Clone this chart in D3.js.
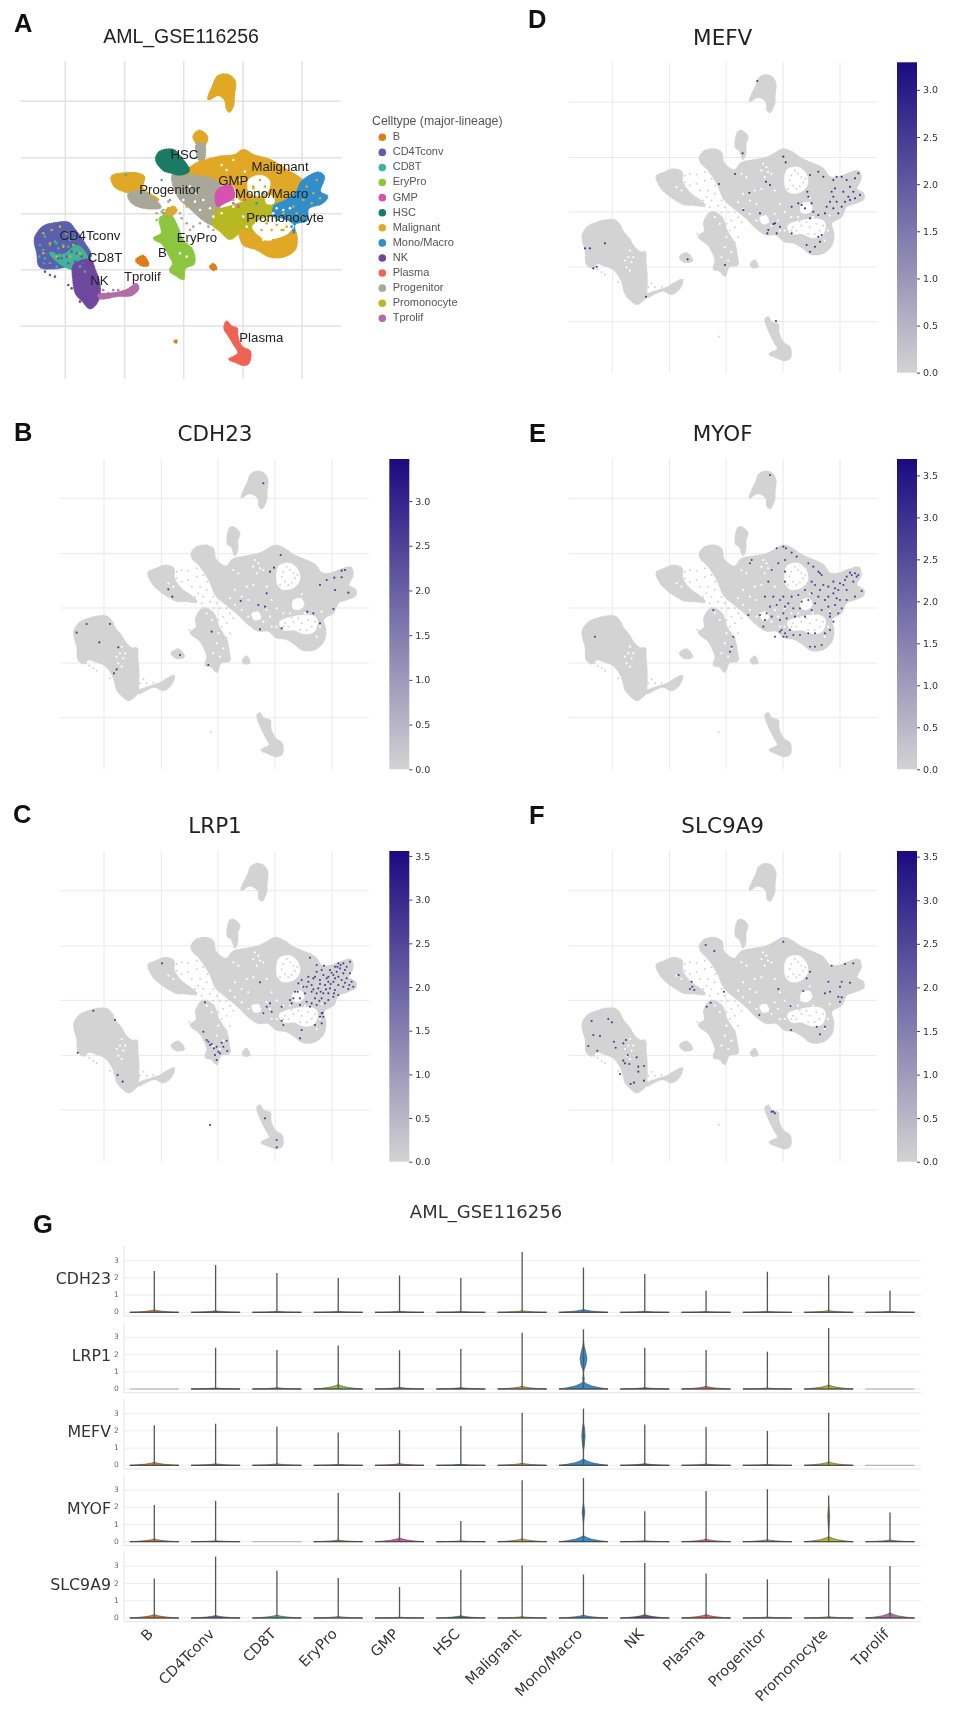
<!DOCTYPE html>
<html><head><meta charset="utf-8">
<script src="https://cdn.jsdelivr.net/npm/d3@7"></script>
<style>html,body{margin:0;background:#fff}svg{display:block;filter:blur(.6px)}</style></head>
<body><svg id="c" width="957" height="1709"></svg>
<script>
// ---------- categories ----------
const cellTypes=["B","CD4Tconv","CD8T","EryPro","GMP","HSC","Malignant","Mono/Macro","NK","Plasma","Progenitor","Promonocyte","Tprolif"];
const typeColors=["#e07b1a","#5a5fae","#3fb598","#8cc63f","#d452b0","#1b7a64","#e0a825","#2f8ecb","#6f479f","#ef6354","#a8a89a","#b8b823","#b36ca6"];
const genes=["CDH23","LRP1","MEFV","MYOF","SLC9A9"];
// ---------- grey silhouette, embedding units ----------
const xGridBase=[312,484,654,825,996], yGridBase=[295,461,624,789,953];
const silhouette=[
 [[223,693],[240,668],[262,658],[290,650],[320,650],[335,665],[345,685],[362,705],[375,727],[395,745],[410,745],[412,775],[415,810],[415,850],[411,880],[396,895],[385,900],[370,890],[352,870],[345,845],[338,825],[330,812],[315,795],[290,785],[265,778],[250,790],[235,778],[232,740],[225,715]],
 [[725,292],[735,265],[745,245],[752,225],[770,215],[790,220],[802,240],[800,270],[798,300],[785,325],[778,318],[775,295],[760,282],[745,280]],
 [[683,430],[690,385],[700,382],[718,400],[712,420],[712,445],[705,465],[695,440]],
 [[445,518],[465,508],[495,497],[520,505],[522,535],[542,565],[575,590],[590,605],[555,603],[530,602],[510,592],[480,572],[458,550]],
 [[575,460],[590,442],[620,437],[640,448],[645,475],[665,495],[680,500],[700,478],[735,470],[775,462],[800,450],[825,437],[850,445],[880,465],[915,480],[945,495],[965,520],[995,520],[1020,510],[1052,503],[1058,525],[1045,555],[1066,570],[1066,585],[1040,598],[1015,607],[1000,637],[970,657],[976,690],[971,722],[945,747],[910,750],[885,732],[860,717],[830,712],[805,692],[775,692],[745,672],[712,640],[678,612],[648,585],[628,540],[598,495],[578,475]],
 [[588,655],[610,625],[640,640],[655,680],[680,722],[686,755],[688,782],[662,788],[650,815],[635,800],[617,795],[622,770],[612,742],[600,722],[572,698],[590,682]],
 [[515,760],[535,748],[552,770],[530,774]],
 [[728,782],[740,770],[748,788],[733,790]],
 [[412,875],[450,860],[480,850],[495,840],[522,828],[512,855],[490,870],[465,860],[440,868],[415,880]],
 [[772,945],[780,940],[790,955],[810,962],[811,985],[825,1015],[845,1030],[846,1060],[830,1068],[805,1060],[785,1050],[810,1035],[800,1015],[785,985]]
];
const silhouetteGaps=[
 [[838,500],[870,492],[893,512],[897,540],[878,562],[848,566],[833,548]],
 [[840,668],[865,655],[935,648],[950,660],[942,692],[915,700],[882,688],[852,688]],
 [[882,602],[903,598],[910,615],[895,627],[880,623]],
 [[757,642],[774,638],[780,654],[765,658]]
];
const sparseGrey=[[530,515],[545,510],[565,512],[590,505],[530,535],[545,545],[565,540],[590,530],[610,525],[575,560],[600,560],[620,570],[610,590],[640,590],[595,580],[630,605],[650,610],[660,625],[680,625],[640,625],[670,650],[655,660],[690,640],[700,655],[680,670],[665,680],[690,700],[680,715],[632,997],[420,850],[440,850],[430,838],[460,848],[395,850],[400,835],[258,790],[268,797],[280,805],[290,812],[330,835],[345,812],[850,515],[870,510],[885,535],[855,545],[845,530],[865,555],[880,520],[860,500],[875,548],[892,525],[840,555],[855,670],[880,665],[905,670],[925,660],[935,680],[900,690],[865,680],[920,690],[895,655],[945,665],[875,652],[850,680],[568,690],[580,700],[510,520],[640,560],[585,590],[622,545],[605,610],[625,640]];
const sparseWhite=[[775,490],[760,500],[705,570],[725,590],[715,520],[770,520],[745,600],[790,510],[800,560],[740,560],[700,510],[770,640],[620,640],[635,660],[655,700],[670,745],[360,760],[370,775],[355,790],[365,740],[350,770],[640,760],[810,650],[850,640],[815,680],[960,680],[950,710],[765,480],[780,505],[760,555],[800,630],[815,600],[830,625],[905,582],[915,640],[870,640],[690,595],[705,615],[725,630],[745,650],[790,665],[830,680],[965,635],[650,730],[660,770],[375,760],[365,800],[520,560],[505,550]];
// ---------- panel A, embedding units ----------
const xGridA=[196,374,551,729,906], yGridA=[304,473,641,809,978];
const clusterShapes=[
 ["Malignant",[[625,298],[640,255],[655,228],[685,225],[705,245],[702,285],[700,315],[688,335],[680,325],[675,300],[655,285]]],
 ["Malignant",[[580,410],[598,392],[622,412],[610,440],[598,440],[590,430]]],
 ["Progenitor",[[590,432],[612,432],[610,480],[598,480]]],
 ["Malignant",[[335,530],[370,520],[410,520],[432,530],[428,565],[475,600],[430,600],[395,582],[345,560]]],
 ["Progenitor",[[385,585],[420,572],[482,622],[425,622],[395,607]]],
 ["Malignant",[[556,520],[590,490],[620,480],[660,470],[705,465],[730,450],[760,465],[810,480],[860,510],[908,545],[890,580],[835,605],[720,598],[700,555],[650,555],[590,552]]],
 ["Progenitor",[[518,525],[560,525],[650,545],[668,590],[655,640],[672,665],[640,675],[608,658],[568,622],[535,590]]],
 ["HSC",[[468,478],[480,455],[520,450],[540,470],[567,512],[540,524],[510,517],[490,510]]],
 ["Promonocyte",[[648,635],[690,620],[760,600],[828,605],[828,640],[765,680],[762,698],[720,698],[690,717],[660,692],[640,675]]],
 ["GMP",[[650,575],[690,555],[702,590],[670,610],[652,617]]],
 ["Malignant",[[720,692],[760,700],[800,725],[830,718],[868,702],[878,680],[890,710],[885,748],[850,770],[810,770],[770,748],[730,733]]],
 ["Mono/Macro",[[905,545],[955,518],[972,530],[960,575],[982,590],[965,610],[925,625],[920,660],[885,672],[882,700],[870,672],[825,655],[822,620],[860,600],[890,575]]],
 ["EryPro",[[480,655],[510,645],[532,680],[548,720],[577,750],[582,790],[555,805],[550,837],[530,827],[510,812],[520,790],[510,770],[488,732],[462,715],[485,700]]],
 ["Malignant",[[495,640],[520,620],[530,630],[515,645]]],
 ["B",[[408,781],[430,768],[445,795],[425,796]]],
 ["B",[[630,800],[640,792],[650,805],[640,810]]],
 ["CD4Tconv",[[105,715],[130,680],[165,670],[205,668],[225,690],[250,725],[272,770],[225,792],[160,805],[120,800],[112,760]]],
 ["CD8T",[[150,758],[190,765],[232,738],[262,772],[258,798],[220,808],[180,790]]],
 ["NK",[[222,795],[270,780],[285,810],[298,850],[298,890],[285,915],[270,925],[250,905],[228,880],[220,840]]],
 ["Tprolif",[[295,885],[340,880],[380,870],[410,852],[415,865],[395,885],[350,888],[300,895]]],
 ["Plasma",[[673,985],[680,965],[695,980],[710,985],[712,1005],[725,1040],[750,1055],[745,1090],[730,1095],[705,1085],[688,1078],[715,1060],[700,1030],[685,1005]]],
 ["B",[[524,1022],[530,1022],[530,1027],[524,1027]]]
];
const clusterGaps=[[[748,540],[785,528],[808,545],[798,578],[770,586],[748,573]],[[760,678],[800,655],[860,664],[880,680],[858,698],[825,712],[790,698],[765,692]],[[797,592],[818,590],[820,608],[802,610]]];
const clusterSpeckle={
 "CD8T":[[120,735],[130,750],[118,770],[135,775],[150,735],[165,725],[140,760],[175,745],[205,740],[225,715],[130,790],[150,790],[170,800],[135,710],[170,730],[210,720],[160,770],[185,715],[190,735],[485,540],[378,525],[510,600],[490,640],[240,800],[255,815]],
 "CD4Tconv":[[140,760],[175,775],[205,790],[230,760],[250,790],[150,795],[195,750],[125,790],[135,815],[150,825],[165,830],[200,770],[225,785],[170,760],[185,775],[245,770],[215,755]],
 "Malignant":[[920,560],[940,580],[935,610],[910,600],[880,620],[850,640],[870,650],[890,640],[905,650],[950,540],[960,595],[130,700],[155,690],[180,680],[200,700],[150,730],[190,740],[170,770],[130,760],[240,760],[210,770],[220,735],[650,500],[640,630],[775,625],[800,615],[745,650],[785,690],[815,690],[845,690],[760,670],[780,540],[760,560],[795,560],[775,575],[800,670],[830,675],[860,680],[830,655],[385,560],[620,640],[560,620],[505,625]],
 "Progenitor":[[470,640],[485,635],[515,660],[540,640],[560,670],[570,690],[600,670],[505,605],[500,630],[520,640],[545,655],[580,680],[625,680],[640,690]],
 "Promonocyte":[[760,565],[740,610],[800,660],[850,690],[820,720],[780,655],[700,600],[790,600]],
 "NK":[[205,855],[215,865],[225,850],[240,905],[260,800]],
 "Tprolif":[[310,870],[325,880],[340,870],[355,870],[330,892],[305,885]],
 "GMP":[[700,610],[715,620],[690,530],[735,600],[690,570],[650,600]],
 "Mono/Macro":[[790,580],[770,610],[880,690],[875,680],[835,660]],
 "EryPro":[[470,660],[490,630],[560,800]]
};
const clusterWhite=[[570,560],[590,580],[610,600],[630,625],[600,630],[585,605],[640,650],[665,640],[700,480],[680,510],[665,495],[720,540],[735,515],[700,620],[730,650],[740,680],[820,640],[830,625],[850,630],[870,625],[550,600],[560,640],[500,770],[540,760],[560,770],[790,720],[775,700]];
const clusterLabels=[["CD4Tconv",270,710],["CD8T",315,775],["NK",298,845],["Tprolif",427,833],["B",487,760],["EryPro",591,716],["Progenitor",509,573],["HSC",553,468],["GMP",700,545],["Malignant",840,502],["Mono/Macro",815,583],["Promonocyte",855,656],["Plasma",784,1015]];
// ---------- expressing cells read per panel ----------
const cdh23Cells=[[790,250],[842,465],[822,503],[810,515],[505,568],[517,590],[722,603],[795,620],[775,615],[800,580],[1035,510],[1025,512],[1003,533],[980,540],[960,555],[1005,570],[1025,532],[1045,578],[1000,627],[922,635],[940,640],[780,688],[845,685],[960,670],[230,698],[260,672],[330,672],[298,727],[355,742],[350,808],[342,820],[635,695],[625,795],[540,765]];
const lrp1Cells=[[930,503],[950,525],[972,527],[965,540],[950,545],[945,560],[970,555],[990,540],[1005,530],[1015,520],[1030,520],[1050,515],[1040,530],[1020,535],[1010,545],[1030,550],[1050,550],[1000,555],[985,560],[1015,560],[1040,565],[1055,575],[1060,590],[1045,597],[1030,590],[1015,585],[1000,575],[985,575],[975,585],[960,570],[940,565],[925,560],[905,570],[895,580],[885,605],[920,590],[935,585],[955,595],[990,595],[1005,600],[1015,615],[1000,620],[985,610],[970,610],[950,610],[935,605],[915,610],[900,625],[880,625],[875,640],[900,645],[920,635],[945,625],[965,625],[985,630],[975,640],[950,645],[930,650],[810,640],[815,665],[790,670],[800,650],[845,650],[965,670],[970,680],[945,705],[965,700],[905,720],[850,705],[845,692],[900,745],[780,577],[615,637],[610,725],[620,750],[635,762],[650,770],[665,758],[680,752],[682,783],[660,790],[645,795],[650,810],[630,765],[486,520],[345,690],[280,662],[233,788],[353,855],[368,875],[630,1005],[830,1072],[795,985],[830,1050],
 [1022,525],[1035,540],[1012,530],[995,548],[980,565],[960,582],[1025,570],[1048,585],[1035,578],[1005,565],[992,582],[978,598],[962,605],[940,598],[925,575],[910,590],[893,605],[870,630],[935,640],[958,632],[1002,610],[968,668],[960,680],[625,755],[642,775],[670,770],[655,785]];
const mefvCells=[[712,243],[790,470],[797,487],[668,460],[597,552],[645,522],[688,578],[738,545],[750,555],[670,630],[720,640],[765,670],[760,672],[745,690],[742,700],[770,700],[780,680],[815,620],[835,610],[862,575],[865,590],[870,525],[895,515],[910,530],[940,540],[950,530],[965,530],[980,540],[1005,535],[1015,520],[990,560],[945,565],[935,575],[940,590],[970,575],[985,590],[1000,575],[1020,585],[1005,595],[930,605],[950,605],[975,605],[990,600],[920,620],[940,625],[965,620],[955,640],[915,640],[895,645],[880,635],[870,655],[875,610],[845,615],[855,625],[905,705],[895,710],[900,725],[870,755],[885,740],[860,735],[815,700],[255,730],[210,745],[195,745],[220,805],[230,800],[378,890],[503,778],[615,795],[768,963]];
const myofCells=[[810,225],[755,480],[750,490],[830,445],[850,440],[858,445],[875,458],[890,470],[855,480],[835,490],[815,510],[805,545],[855,515],[855,545],[925,490],[940,500],[955,515],[965,525],[935,545],[945,555],[970,555],[985,560],[1000,545],[1020,550],[1035,540],[1050,518],[1065,520],[1070,530],[1060,545],[1040,570],[1015,570],[1000,580],[985,590],[975,600],[955,590],[935,580],[915,570],[895,585],[875,590],[850,590],[820,590],[795,590],[1020,600],[1005,615],[1025,625],[1015,640],[990,640],[965,630],[935,630],[900,625],[880,625],[855,620],[830,615],[810,620],[780,645],[745,645],[795,660],[790,680],[840,660],[860,655],[885,650],[915,650],[990,650],[845,690],[855,700],[870,690],[880,705],[900,705],[925,700],[945,700],[975,700],[990,690],[1000,665],[930,740],[965,735],[945,740],[700,710],[695,740],[690,755],[640,630],[285,710],[1085,573],[850,710],[825,710],[1065,590],
 [960,520],[1040,530],[1055,525],[1030,555],[1075,525],[1005,565],[960,570],[925,600],[865,610],[840,600],[905,605],[945,610],[985,620],[1010,595],[1040,600],[800,640],[815,650],[850,640],[840,695],[860,710]];
const slc9a9Cells=[[617,465],[643,483],[850,455],[536,555],[575,575],[577,590],[570,597],[583,600],[620,650],[632,638],[672,605],[835,597],[778,675],[872,648],[873,720],[930,545],[920,565],[910,603],[995,527],[1035,522],[1060,520],[1025,575],[1020,590],[985,575],[975,610],[990,605],[1015,620],[1025,622],[1020,635],[950,710],[975,710],[960,733],[275,693],[325,687],[336,697],[280,735],[300,738],[265,768],[292,782],[342,755],[347,773],[370,760],[378,750],[383,795],[370,812],[375,820],[410,802],[388,822],[415,830],[432,828],[415,845],[392,882],[402,878],[432,872],[360,852],[820,965],[825,970],[815,965],[1050,578]];
// colour bars
const cbarMax={CDH23:3.47,LRP1:3.557,MEFV:3.293,MYOF:3.695,SLC9A9:3.565};
const cbarTicks=[0,.5,1,1.5,2,2.5,3,3.5];
const cellLevel=2.7;
// ---------- violins: top of the stem and height of the foot, per gene and cell type ----------
const violinMax={
 CDH23:[2.4,2.75,2.28,2.0,2.14,2.0,3.5,2.6,2.22,1.25,2.36,2.16,1.25],
 LRP1:[0,2.4,2.27,2.53,2.25,2.33,3.27,3.47,2.4,2.27,2.17,3.55,0],
 MEFV:[2.33,2.42,2.25,1.9,2.05,2.28,3.05,3.3,2.37,2.23,2.0,3.05,0],
 MYOF:[2.13,2.37,0,2.83,2.87,1.2,3.57,3.7,1.77,2.95,3.05,2.68,1.7],
 SLC9A9:[2.3,3.57,2.75,2.33,1.8,2.8,3.05,2.53,3.2,2.58,2.25,2.3,3.03]};
const violinFoot={
 CDH23:[.14,.09,.06,.06,.06,.05,.09,.17,.06,.05,.06,.1,.06],
 LRP1:[0,.06,.08,.26,.1,.08,.16,.44,.08,.16,.06,.24,0],
 MEFV:[.18,.09,.09,.06,.1,.06,.12,.38,.1,.08,.06,.2,0],
 MYOF:[.16,.06,0,.1,.22,.05,.17,.36,.06,.15,.12,.3,.1],
 SLC9A9:[.2,.15,.17,.09,.05,.13,.08,.17,.2,.2,.06,.08,.3]};
const footProfile=[[0,1],[.15,.68],[.4,.34],[.7,.12],[1,0]];
const violinBulges=[
 ["LRP1","Mono/Macro",[[.9,0],[1.15,.03],[1.4,.1],[1.77,.14],[2.1,.1],[2.5,.03],[2.85,0]]],
 ["LRP1","Mono/Macro",[[.3,0],[.6,.035],[.9,0]]],
 ["MEFV","Mono/Macro",[[.8,0],[1.2,.04],[1.7,.07],[2.2,.04],[2.5,0]]],
 ["MYOF","Mono/Macro",[[1,0],[1.4,.03],[1.7,.055],[2,.03],[2.3,0]]],
 ["MYOF","Promonocyte",[[.6,0],[1,.025],[1.5,.04],[1.9,.02],[2.1,0]]]
];
const yTicksViolin=[0,1,2,3];

// ---------- drawing ----------
const svg=d3.select("#c");
const SANS="'Liberation Sans',Arial,sans-serif", DEJA="'DejaVu Sans',sans-serif";
const colorOf=d3.scaleOrdinal(cellTypes,typeColors);
const outline=d3.line().curve(d3.curveCatmullRomClosed.alpha(.5));
// shape = solid body + a dotted rim, so the edge reads as a crowd of cells
function blob(sel,dFn,colFn){
 sel.attr("d",dFn).attr("fill",colFn).attr("stroke",colFn).attr("stroke-width",2.3).attr("stroke-linecap","round").attr("stroke-dasharray","0.1 2.1");
}
function letter(t,x,y){svg.append("text").attr("x",x).attr("y",y).text(t).attr("font-family",SANS).attr("font-weight",700).attr("font-size",25.5).attr("fill","#111");}
[["A",14,32],["B",14,441],["C",13,823],["D",528,28],["E",529,442],["F",529,824],["G",33,1233]].forEach(d=>letter(...d));

// Panel A
{
 const g=svg.append("g");
 const x=d3.scaleLinear().domain([xGridA[0],xGridA[4]]).range([65.3,302]);
 const y=d3.scaleLinear().domain([yGridA[0],yGridA[4]]).range([101.3,326]);
 const pt=d=>[x(d[0]),y(d[1])];
 g.selectAll(".v").data(xGridA).join("line").attr("x1",x).attr("x2",x).attr("y1",61).attr("y2",379).attr("stroke","#e2e2e2").attr("stroke-width",1.5);
 g.selectAll(".h").data(yGridA).join("line").attr("y1",y).attr("y2",y).attr("x1",20.5).attr("x2",341).attr("stroke","#e2e2e2").attr("stroke-width",1.5);
 blob(g.selectAll(".c").data(clusterShapes).join("path"),d=>outline(d[1].map(pt)),d=>colorOf(d[0]));
 blob(g.selectAll(".gap").data(clusterGaps).join("path"),d=>outline(d.map(pt)),()=>"#fff");
 Object.entries(clusterSpeckle).forEach(([k,v])=>{
  g.selectAll(null).data(v).join("circle").attr("cx",d=>x(d[0])).attr("cy",d=>y(d[1])).attr("r",1.3).attr("fill",colorOf(k));});
 g.selectAll(null).data(clusterWhite).join("circle").attr("cx",d=>x(d[0])).attr("cy",d=>y(d[1])).attr("r",1.3).attr("fill","#fff");
 g.selectAll(".lab").data(clusterLabels).join("text").attr("x",d=>x(d[1])).attr("y",d=>y(d[2])).attr("text-anchor","middle").attr("dominant-baseline","middle").attr("font-family",SANS).attr("font-size",13.2).attr("fill","#222").text(d=>d[0]);
 g.append("text").attr("x",181).attr("y",43).attr("text-anchor","middle").attr("font-family",SANS).attr("font-size",19.5).attr("fill","#222").text("AML_GSE116256");
 const leg=g.append("g");
 leg.append("text").attr("x",372).attr("y",125).attr("font-family",SANS).attr("font-size",12.3).attr("fill","#555").text("Celltype (major-lineage)");
 const ly=d3.scalePoint().domain(cellTypes).range([137.3,318.3]);
 leg.selectAll("circle").data(cellTypes).join("circle").attr("cx",382.3).attr("cy",ly).attr("r",3.8).attr("fill",colorOf);
 leg.selectAll(".t").data(cellTypes).join("text").attr("x",392.7).attr("y",ly).attr("dominant-baseline","middle").attr("font-family",SANS).attr("font-size",11).attr("fill","#555").text(d=>d);
}

// Feature panels B-F: per-panel grid readings align the cell readings with the silhouette
const features=[
 {gene:"CDH23",cells:cdh23Cells,gx:xGridBase,gy:yGridBase,px:[104,332],py:[498.3,717.7],hx:[60.7,369],vy:[459,769.3],cx:389.3,tx:215,ty:441},
 {gene:"LRP1",cells:lrp1Cells,gx:xGridBase,gy:[302,467,631,797,960],px:[104,332],py:[890.7,1110],hx:[60.7,369],vy:[851,1161.7],cx:389.3,tx:215,ty:833},
 {gene:"MEFV",cells:mefvCells,gx:[277,446,617,788,960],gy:[306,471,636,800,965],px:[612.3,840],py:[102,321.7],hx:[569,877.3],vy:[62.3,372.7],cx:897,tx:722.7,ty:44.7},
 {gene:"MYOF",cells:myofCells,gx:[337,506,678,849,1020],gy:yGridBase,px:[612.3,840],py:[498.3,717.7],hx:[569,877.3],vy:[459,769.3],cx:897,tx:722.7,ty:441},
 {gene:"SLC9A9",cells:slc9a9Cells,gx:[337,506,678,849,1020],gy:[302,467,631,797,960],px:[612.3,840],py:[890.7,1110],hx:[569,877.3],vy:[851,1161.7],cx:897,tx:722.7,ty:833}
];
const defs=svg.append("defs");
features.forEach(f=>{
 const g=svg.append("g");
 const xb=d3.scaleLinear().domain([xGridBase[0],xGridBase[4]]).range(f.px);
 const yb=d3.scaleLinear().domain([yGridBase[0],yGridBase[4]]).range(f.py);
 const xc=d3.scaleLinear().domain([f.gx[0],f.gx[4]]).range(f.px);
 const yc=d3.scaleLinear().domain([f.gy[0],f.gy[4]]).range(f.py);
 const pt=d=>[xb(d[0]),yb(d[1])];
 const color=d3.scaleLinear().domain([0,cbarMax[f.gene]]).range(["#d3d3d3","#1b0a80"]);
 g.selectAll(".v").data(xGridBase).join("line").attr("x1",xb).attr("x2",xb).attr("y1",f.vy[0]).attr("y2",f.vy[1]).attr("stroke","#e9e9e9");
 g.selectAll(".h").data(yGridBase).join("line").attr("y1",yb).attr("y2",yb).attr("x1",f.hx[0]).attr("x2",f.hx[1]).attr("stroke","#e9e9e9");
 blob(g.selectAll(".s").data(silhouette).join("path"),d=>outline(d.map(pt)),()=>"#d3d3d3");
 blob(g.selectAll(".gap").data(silhouetteGaps).join("path"),d=>outline(d.map(pt)),()=>"#fff");
 g.selectAll(".sg").data(sparseGrey).join("circle").attr("cx",d=>xb(d[0])).attr("cy",d=>yb(d[1])).attr("r",1).attr("fill","#d3d3d3");
 g.selectAll(".sw").data(sparseWhite).join("circle").attr("cx",d=>xb(d[0])).attr("cy",d=>yb(d[1])).attr("r",1.1).attr("fill","#fff");
 g.selectAll(".cell").data(f.cells).join("circle").attr("cx",d=>xc(d[0])).attr("cy",d=>yc(d[1])).attr("r",1.05).attr("fill",color(cellLevel));
 g.append("text").attr("x",f.tx).attr("y",f.ty).attr("text-anchor","middle").attr("font-family",DEJA).attr("font-size",21.5).attr("fill","#222").text(f.gene);
 // colour bar
 const id="grad"+f.gene;
 const lg=defs.append("linearGradient").attr("id",id).attr("x1",0).attr("x2",0).attr("y1",1).attr("y2",0);
 lg.append("stop").attr("offset",0).attr("stop-color","#d3d3d3");
 lg.append("stop").attr("offset",1).attr("stop-color","#1b0a80");
 g.append("rect").attr("x",f.cx).attr("width",20).attr("y",f.vy[0]).attr("height",f.vy[1]-f.vy[0]).attr("fill",`url(#${id})`);
 const cy=d3.scaleLinear().domain([0,cbarMax[f.gene]]).range([f.vy[1],f.vy[0]]);
 const ax=d3.axisRight(cy).tickValues(cbarTicks.filter(t=>t<=cbarMax[f.gene])).tickFormat(d3.format(".1f")).tickSize(3).tickPadding(3);
 const ag=g.append("g").attr("transform",`translate(${f.cx+20},0)`).call(ax);
 ag.select(".domain").remove();
 ag.selectAll("line").attr("stroke","#444");
 ag.selectAll("text").attr("font-family",DEJA).attr("font-size",9.5).attr("fill","#333");
});

// Panel G
{
 const g=svg.append("g");
 const x=d3.scalePoint().domain(cellTypes).range([154.3,890]);
 const halfW=24.5;
 g.append("text").attr("x",486).attr("y",1218).attr("text-anchor","middle").attr("font-family",DEJA).attr("font-size",18).attr("fill","#333").text("AML_GSE116256");
 const zero=[1312.3,1389,1465.3,1541.7,1618];
 const perUnit=17.2;
 genes.forEach((gene,ri)=>{
  const r=g.append("g");
  const y=d3.scaleLinear().domain([0,3]).range([zero[ri],zero[ri]-3*perUnit]);
  r.selectAll(".gl").data(yTicksViolin).join("line").attr("x1",124).attr("x2",920.7).attr("y1",y).attr("y2",y).attr("stroke","#ededed").attr("stroke-width",1);
  r.append("line").attr("x1",124).attr("x2",124).attr("y1",zero[ri]-66.3).attr("y2",zero[ri]+3.7).attr("stroke","#e4e4e4");
  r.append("line").attr("x1",124).attr("x2",920.7).attr("y1",zero[ri]+3.7).attr("y2",zero[ri]+3.7).attr("stroke","#e4e4e4");
  r.selectAll(".tl").data(yTicksViolin).join("text").attr("x",116.5).attr("y",y).attr("text-anchor","middle").attr("dominant-baseline","middle").attr("font-family",DEJA).attr("font-size",7.5).attr("fill","#666").text(d=>d);
  r.append("text").attr("x",111).attr("y",zero[ri]-32.5).attr("text-anchor","end").attr("dominant-baseline","middle").attr("font-family",DEJA).attr("font-size",15.8).attr("fill","#333").text(gene);
  cellTypes.forEach((ct,i)=>{
   const cx=x(ct),mx=violinMax[gene][i],h=violinFoot[gene][i];
   if(mx===0){ r.append("line").attr("x1",cx-halfW).attr("x2",cx+halfW).attr("y1",y(0)).attr("y2",y(0)).attr("stroke","#aaa").attr("stroke-width",1); return; }
   const area=d3.area().y(d=>y(d[0]*h)).x0(d=>cx-d[1]*halfW).x1(d=>cx+d[1]*halfW);
   r.append("path").attr("d",area(footProfile)).attr("fill",colorOf(ct)).attr("stroke","#444").attr("stroke-width",.6);
   r.append("line").attr("x1",cx-halfW).attr("x2",cx+halfW).attr("y1",y(0)).attr("y2",y(0)).attr("stroke","#444").attr("stroke-width",1);
   violinBulges.filter(b=>b[0]===gene&&b[1]===ct).forEach(b=>{
    const a2=d3.area().y(d=>y(d[0])).x0(d=>cx-d[1]*halfW).x1(d=>cx+d[1]*halfW);
    r.append("path").attr("d",a2(b[2])).attr("fill",colorOf(ct)).attr("stroke","#333").attr("stroke-width",.5);
   });
   r.append("line").attr("x1",cx).attr("x2",cx).attr("y1",y(0)).attr("y2",y(mx)).attr("stroke","#555").attr("stroke-width",1.3);
  });
 });
 g.selectAll(".xl").data(cellTypes).join("text").attr("transform",d=>`translate(${x(d)-3},1632) rotate(-45)`).attr("text-anchor","end").attr("dominant-baseline","middle").attr("font-family",DEJA).attr("font-size",14.5).attr("fill","#333").text(d=>d);
}
</script></body></html>
